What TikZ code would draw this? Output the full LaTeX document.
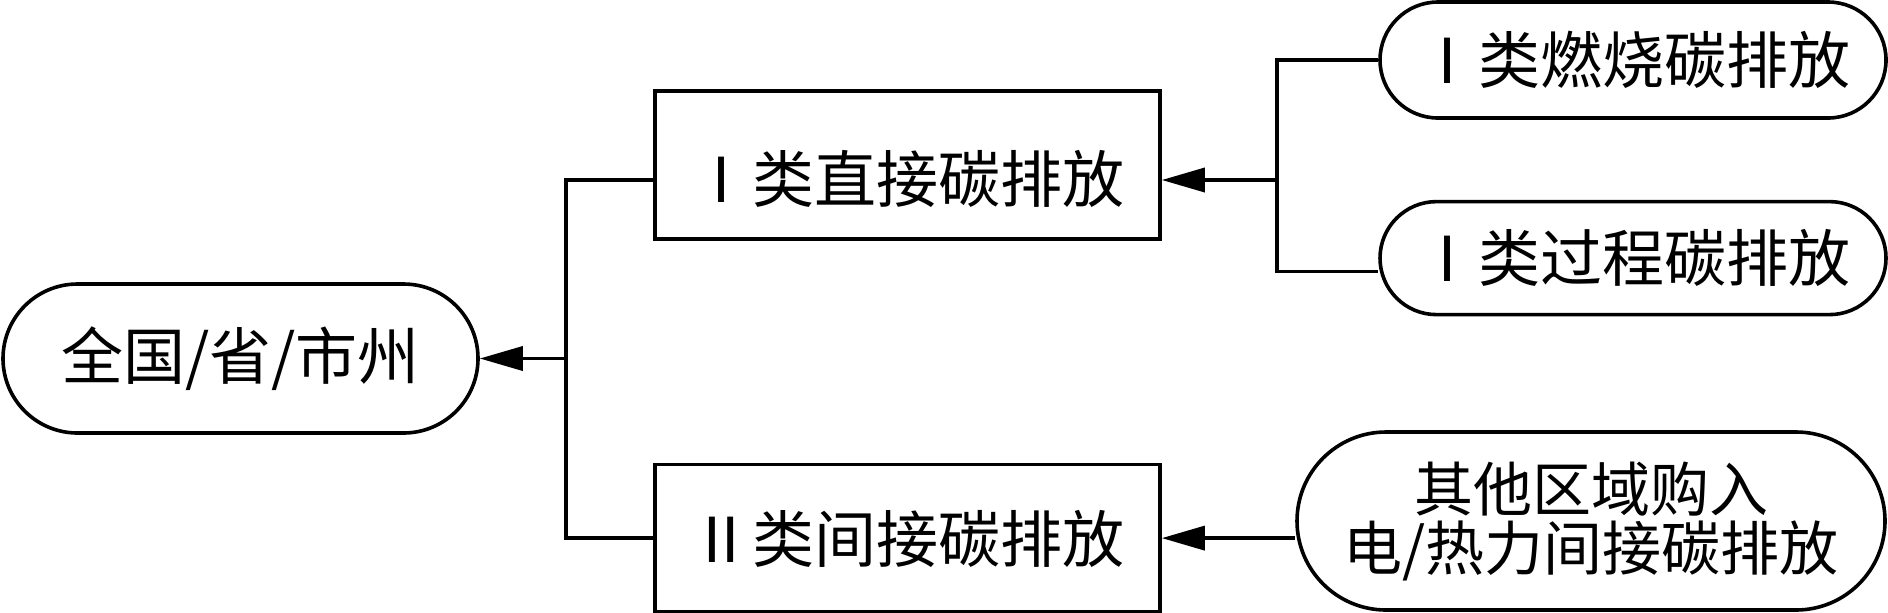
\documentclass[tikz,border=0pt]{standalone}
\usepackage{fontspec}
\usepackage{tikz}
\usetikzlibrary{positioning,shapes.misc,arrows.meta}
\newfontfamily\cjk{Noto Sans CJK SC}

\begin{document}
\begin{tikzpicture}[x=1pt, y=1pt,
    font=\cjk\fontsize{31}{31.5}\selectfont,
    box/.style={draw, line width=1.8pt, rectangle, inner sep=0pt,
      minimum width=252.5pt, minimum height=74pt},
    pill/.style={draw, line width=1.8pt, rounded rectangle, inner sep=0pt,
      align=center},
    link/.style={line width=1.8pt},
    arrow/.style={line width=1.8pt, -{Triangle[length=21.5pt, width=12pt]}}]
      \useasboundingbox (0,0) rectangle (944,-306);
      % Define nodes
      \node[pill, minimum width=237.5pt, minimum height=74.5pt] (region) at (120.25,-179.25) {全国/省/市州};
      \node[box, text height=39pt, text depth=2pt] (direct) at (453.75,-82.5) {Ⅰ类直接碳排放};
      \node[box, below=111pt of direct, minimum height=73.5pt, text height=26pt, text depth=2pt] (indirect) {Ⅱ类间接碳排放};
      \node[pill, minimum width=253pt, minimum height=58pt] (burn) at (816.5,-30) {Ⅰ类燃烧碳排放};
      \node[pill, below=40pt of burn, minimum width=253pt, minimum height=56.5pt] (process) {Ⅰ类过程碳排放};
      \node[pill, minimum width=294pt, minimum height=89pt, font=\cjk\fontsize{29.5}{29.5}\selectfont] (purchase) at (795.5,-260.5) {其他区域购入\\电/热力间接碳排放};
      \coordinate (trunk) at (283,-179.25);
      \coordinate (fork) at (638.5,-90);
      % Connect nodes
      \draw[link] ([yshift=-7.5pt]direct.west) -| (trunk) |- (indirect.west);
      \draw[arrow] (trunk) -- (region.east);
      \draw[link] (burn.west) -| (fork) |- ([yshift=-6.75pt]process.west);
      \draw[arrow] (fork) -- ([yshift=-7.5pt]direct.east);
      \draw[arrow] (purchase.west |- indirect.east) -- (indirect.east);
    \end{tikzpicture}
\end{document}
